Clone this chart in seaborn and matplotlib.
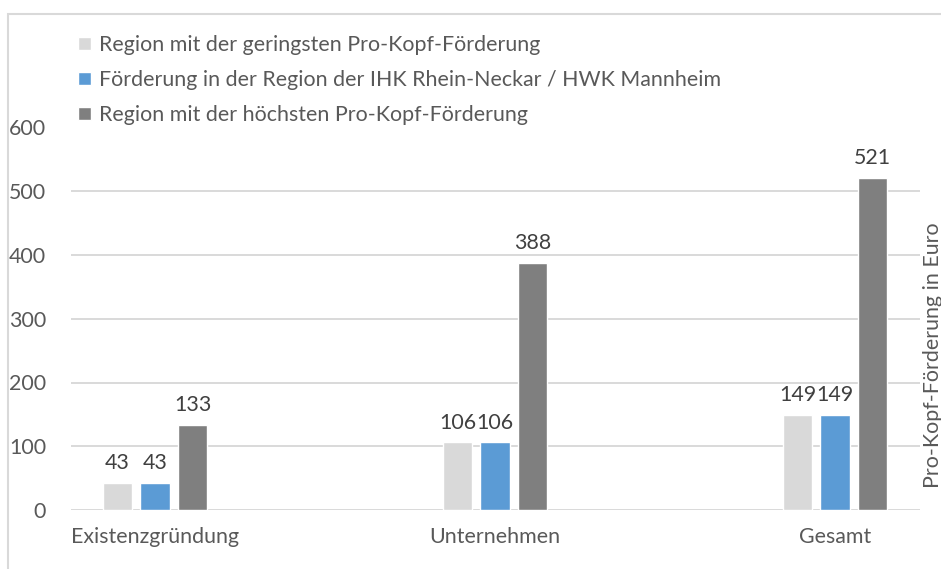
import pandas as pd
import matplotlib.pyplot as plt
import seaborn as sns
from matplotlib.patches import Rectangle

# values
categories = ['Existenzgründung', 'Unternehmen', 'Gesamt']
series = ['Region mit der geringsten Pro-Kopf-Förderung',
          'Förderung in der Region der IHK Rhein-Neckar / HWK Mannheim',
          'Region mit der höchsten Pro-Kopf-Förderung']
lowest = [43, 106, 149]
rhein_neckar = [43, 106, 149]
highest = [133, 388, 521]
yticks = [0, 100, 200, 300, 400, 500, 600]

colors = ['#D9D9D9', '#5B9BD5', '#7F7F7F']

rows = []
for name, vals in zip(series, [lowest, rhein_neckar, highest]):
    for cat, v in zip(categories, vals):
        rows.append({'Kategorie': cat, 'Reihe': name, 'Wert': v})
df = pd.DataFrame(rows)

sns.set_style('white')
plt.rcParams['font.family'] = ['Lato', 'DejaVu Sans']
txt = '#595959'
fs = 15.4

fig = plt.figure(figsize=(9.41, 5.69), dpi=100)
ax = fig.add_axes([71 / 941, 1 - 510 / 569, (920 - 71) / 941, (510 - 127.5) / 569])

sns.barplot(data=df, x='Kategorie', y='Wert', hue='Reihe', order=categories,
            hue_order=series, palette=colors, width=0.331, gap=0.21,
            saturation=1, ax=ax)

for c in ax.containers:
    ax.bar_label(c, padding=7, fontsize=fs, color='#404040')

ax.set_xlim(-0.247, 2.25)
ax.set_ylim(0, 600)
ax.set_yticks(yticks)
ax.grid(axis='y', color='#D9D9D9', linewidth=1.4)
ax.set_axisbelow(True)
sns.despine(ax=ax, left=True, bottom=True)
ax.tick_params(axis='both', length=0, labelsize=fs, colors=txt)
ax.tick_params(axis='y', pad=18)
ax.tick_params(axis='x', pad=12)
ax.set_xlabel(None)
ax.set_ylabel('Pro-Kopf-Förderung in Euro', fontsize=fs, color=txt)
ax.yaxis.set_label_position('right')
ax.yaxis.set_label_coords(1.003, 0.405)
ax.yaxis.label.set_horizontalalignment('center')

handles, labels = ax.get_legend_handles_labels()
ax.get_legend().remove()
fig.legend(handles, labels, loc='upper left', bbox_to_anchor=(78 / 941, 1 - 35 / 569),
           frameon=False, fontsize=fs, labelcolor=txt, handlelength=0.6,
           handleheight=0.6, handletextpad=0.4, labelspacing=0.7,
           borderpad=0, borderaxespad=0)

# light frame around the chart like the office export
fig.patches.append(Rectangle((8 / 941, -0.1), 1.1, 1 - 14 / 569 + 0.1,
                             transform=fig.transFigure, fill=False,
                             edgecolor='#D9D9D9', linewidth=1.5))

plt.savefig('out.png', dpi=100)
